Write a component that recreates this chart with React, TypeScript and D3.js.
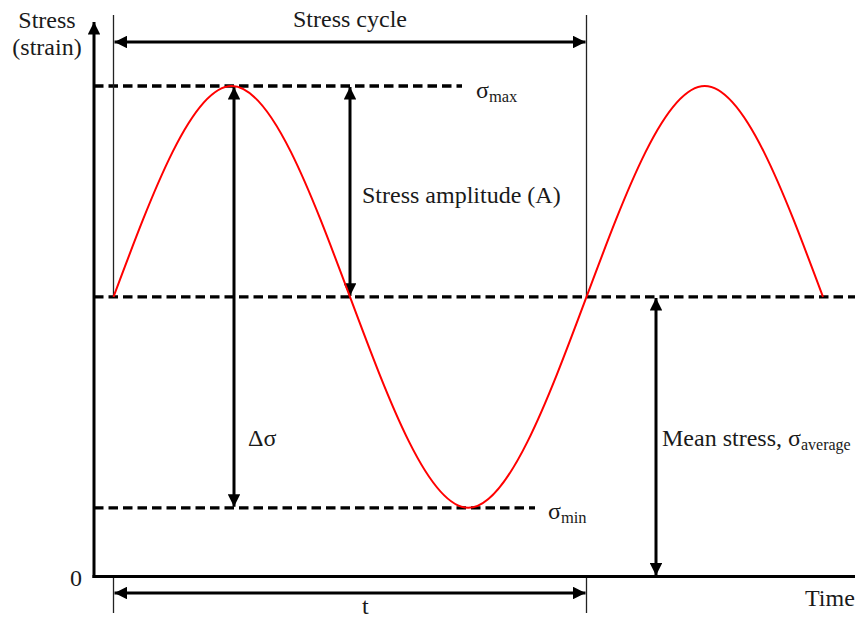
import React from "react";
import * as d3 from "d3";

// Key points of the stress cycle (time in cycles, stress in % of sigma max)
const cycleTimes = [0, 0.25, 0.5, 0.75, 1, 1.25, 1.5];
const stressValues = [57, 100, 57, 14, 57, 100, 57];
const sigmaMax = 100;
const sigmaMean = 57;
const sigmaMin = 14;

const W = 855;
const H = 619;
const FONT = "Liberation Serif, Times New Roman, Times, serif";

export default function App() {
  const x = d3.scaleLinear().domain([0, 1]).range([113.5, 586.5]);
  const y = d3.scaleLinear().domain([0, 100]).range([576.5, 86]);

  const pts: [number, number][] = cycleTimes.map((t, i) => [t, stressValues[i]]);
  const line = d3
    .line<[number, number]>()
    .x((d) => x(d[0]))
    .y((d) => y(d[1]))
    .curve(d3.curveNatural);

  const axisX = 94;
  const x0 = x(0);
  const x1 = x(1);
  const yMax = y(sigmaMax);
  const yMean = y(sigmaMean);
  const yMin = y(sigmaMin);
  const y0 = y(0);

  const dash = "9.5 5";
  const textFill = "#1a1a1a";

  return (
    <svg
      width={W}
      height={H}
      style={{ position: "absolute", left: 0, top: 0, background: "#fff" }}
    >
      <defs>
        <marker id="ah" viewBox="0 0 10 10" refX="10" refY="5" markerWidth="4.2" markerHeight="4.2" orient="auto-start-reverse" markerUnits="strokeWidth">
          <path d="M0,0 L10,5 L0,10 z" fill="#000" />
        </marker>
      </defs>

      {/* dashed reference lines */}
      <line x1={axisX} x2={462} y1={yMax} y2={yMax} stroke="#000" strokeWidth={3.3} strokeDasharray={dash} />
      <line x1={axisX} x2={855} y1={yMean} y2={yMean} stroke="#000" strokeWidth={3.3} strokeDasharray={dash} />
      <line x1={axisX} x2={535} y1={yMin} y2={yMin} stroke="#000" strokeWidth={3.3} strokeDasharray={dash} />

      {/* thin vertical cycle boundaries */}
      <line x1={x0} x2={x0} y1={15} y2={yMean} stroke="#222" strokeWidth={1.3} />
      <line x1={x1} x2={x1} y1={15} y2={yMean} stroke="#222" strokeWidth={1.3} />
      <line x1={x0} x2={x0} y1={578} y2={613} stroke="#222" strokeWidth={1.3} />
      <line x1={x1} x2={x1} y1={578} y2={613} stroke="#222" strokeWidth={1.3} />

      {/* stress cycle arrow */}
      <line x1={x0 + 1} x2={x1 - 1} y1={42} y2={42} stroke="#000" strokeWidth={3} markerStart="url(#ah)" markerEnd="url(#ah)" />
      {/* t arrow */}
      <line x1={x0 + 1} x2={x1 - 1} y1={593} y2={593} stroke="#000" strokeWidth={3} markerStart="url(#ah)" markerEnd="url(#ah)" />

      {/* delta sigma arrow */}
      <line x1={234} x2={234} y1={yMax + 1} y2={yMin - 1} stroke="#000" strokeWidth={3} markerStart="url(#ah)" markerEnd="url(#ah)" />
      {/* amplitude arrow */}
      <line x1={350} x2={350} y1={yMax + 1} y2={yMean - 1} stroke="#000" strokeWidth={3} markerStart="url(#ah)" markerEnd="url(#ah)" />
      {/* mean arrow */}
      <line x1={656} x2={656} y1={yMean + 1} y2={y0 - 1} stroke="#000" strokeWidth={3} markerStart="url(#ah)" markerEnd="url(#ah)" />

      {/* sine curve */}
      <path d={line(pts) || ""} fill="none" stroke="#ff0000" strokeWidth={2} />

      {/* axes */}
      <line x1={axisX} x2={axisX} y1={y0 + 1.5} y2={22} stroke="#000" strokeWidth={3} markerEnd="url(#ah)" />
      <line x1={axisX - 1.5} x2={855} y1={y0} y2={y0} stroke="#000" strokeWidth={3} />

      {/* text */}
      <g fill={textFill} style={{ fontFamily: FONT, fontSize: "24px" }}>
        <text x={47} y={28} textAnchor="middle">Stress</text>
        <text x={47} y={55} textAnchor="middle">(strain)</text>
        <text x={76} y={586} textAnchor="middle">0</text>
        <text x={805} y={606}>Time</text>
        <text x={350} y={27} textAnchor="middle">Stress cycle</text>
        <text x={362} y={614}>t</text>
        <text x={362} y={203}>Stress amplitude (A)</text>
        <text x={248} y={446}>Δσ</text>
        <text x={476} y={98}>
          σ<tspan style={{ fontSize: "16.5px" }} dy={4}>max</tspan>
        </text>
        <text x={548} y={519}>
          σ<tspan style={{ fontSize: "16.5px" }} dy={4}>min</tspan>
        </text>
        <text x={662} y={446}>
          Mean stress, σ<tspan style={{ fontSize: "16px" }} dy={4}>average</tspan>
        </text>
      </g>
    </svg>
  );
}
